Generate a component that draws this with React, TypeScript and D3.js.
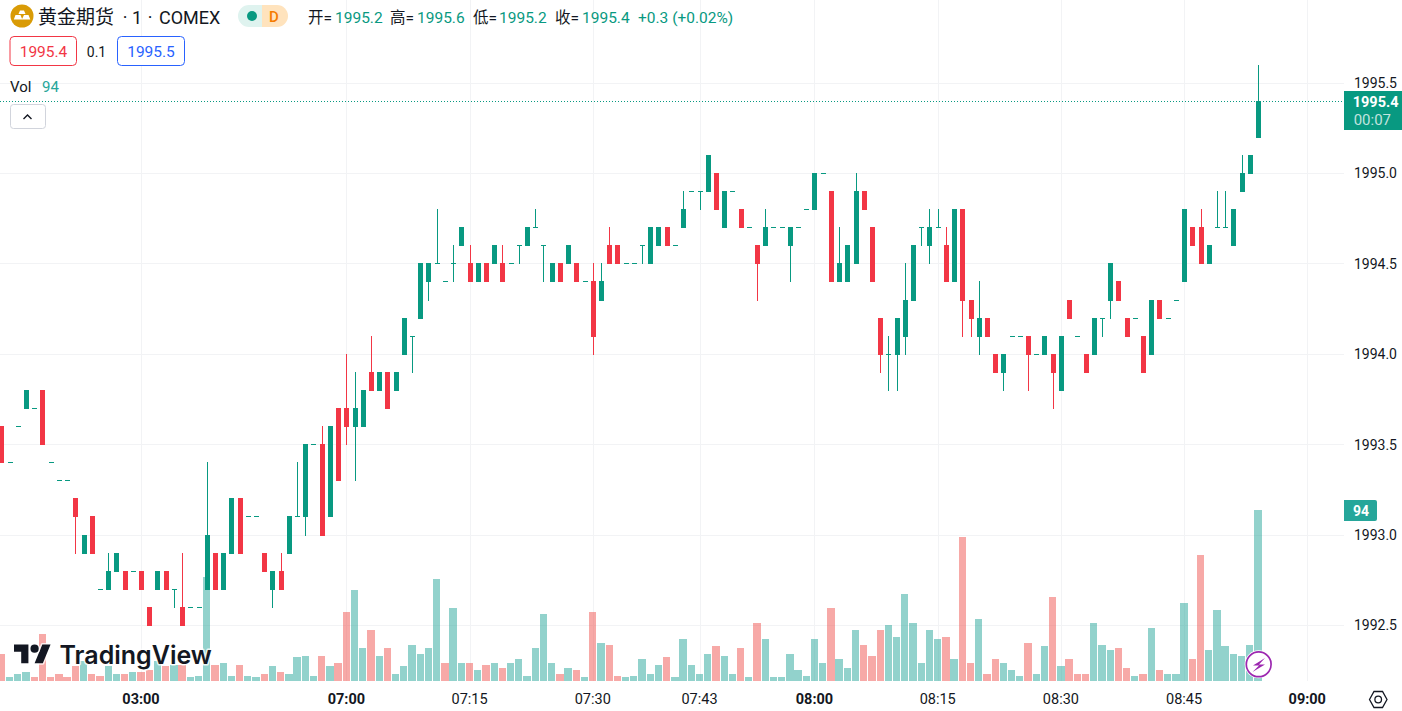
import React from "react";
import * as d3 from "d3";

const opens = [
1993.6,1993.4,1993.6,1993.7,1993.7,1993.8,1993.4,1993.3,1993.3,1993.2,1992.9,1993.1,1992.7,1992.7,1992.8,1992.8,1992.8,1992.8,1992.6,1992.7,
1992.8,1992.7,1992.6,1992.6,1992.6,1992.7,1992.9,1992.7,1992.9,1993.2,1993.1,1993.1,1992.9,1992.7,1992.8,1992.9,1993.1,1993.1,1993.5,1993.5,
1993.1,1993.7,1993.7,1993.6,1993.6,1993.9,1993.8,1993.9,1993.8,1994.0,1994.1,1994.2,1994.4,1994.5,1994.4,1994.5,1994.6,1994.5,1994.4,1994.5,
1994.5,1994.5,1994.5,1994.6,1994.6,1994.7,1994.6,1994.4,1994.5,1994.5,1994.5,1994.4,1994.4,1994.3,1994.6,1994.6,1994.5,1994.5,1994.6,1994.5,
1994.6,1994.7,1994.6,1994.7,1994.9,1994.9,1994.9,1995.0,1994.7,1994.9,1994.8,1994.7,1994.6,1994.6,1994.7,1994.7,1994.6,1994.7,1994.8,1994.8,
1995.0,1994.9,1994.4,1994.4,1994.5,1994.9,1994.7,1994.2,1994.0,1994.0,1994.1,1994.3,1994.7,1994.6,1994.7,1994.6,1994.4,1994.8,1994.3,1994.1,
1994.2,1994.0,1993.9,1994.1,1994.1,1994.1,1994.0,1994.0,1994.0,1993.8,1994.3,1994.1,1994.0,1994.0,1994.2,1994.3,1994.4,1994.2,1994.2,1994.1,
1994.0,1994.3,1994.2,1994.3,1994.4,1994.7,1994.7,1994.5,1994.7,1994.7,1994.6,1994.9,1995.0,1995.2];
const closes = [
1993.4,1993.4,1993.6,1993.8,1993.7,1993.5,1993.4,1993.3,1993.3,1993.1,1993.0,1992.9,1992.7,1992.8,1992.9,1992.7,1992.8,1992.7,1992.5,1992.8,
1992.7,1992.7,1992.5,1992.6,1992.6,1993.0,1992.7,1992.9,1993.2,1992.9,1993.1,1993.1,1992.8,1992.8,1992.7,1993.1,1993.1,1993.5,1993.5,1993.0,
1993.6,1993.3,1993.6,1993.7,1993.8,1993.8,1993.9,1993.7,1993.9,1994.2,1994.1,1994.5,1994.5,1994.5,1994.4,1994.5,1994.7,1994.4,1994.5,1994.4,
1994.6,1994.4,1994.5,1994.6,1994.7,1994.7,1994.6,1994.5,1994.4,1994.6,1994.4,1994.4,1994.1,1994.4,1994.5,1994.5,1994.5,1994.5,1994.6,1994.7,
1994.7,1994.6,1994.6,1994.8,1994.9,1994.9,1995.1,1994.8,1994.9,1994.9,1994.7,1994.7,1994.5,1994.7,1994.7,1994.7,1994.7,1994.7,1994.8,1995.0,
1995.0,1994.4,1994.5,1994.6,1994.9,1994.8,1994.4,1994.0,1994.0,1994.2,1994.3,1994.6,1994.7,1994.7,1994.7,1994.4,1994.8,1994.3,1994.2,1994.2,
1994.1,1993.9,1994.0,1994.1,1994.1,1994.0,1994.0,1994.1,1993.9,1994.1,1994.2,1994.1,1993.9,1994.2,1994.2,1994.5,1994.3,1994.1,1994.2,1993.9,
1994.3,1994.2,1994.2,1994.3,1994.8,1994.6,1994.5,1994.6,1994.7,1994.7,1994.8,1995.0,1995.1,1995.4];
const highs = [
1993.6,1993.4,1993.6,1993.8,1993.7,1993.8,1993.4,1993.3,1993.3,1993.2,1993.0,1993.1,1992.7,1992.9,1992.9,1992.8,1992.8,1992.8,1992.6,1992.8,
1992.8,1992.7,1992.9,1992.6,1992.6,1993.4,1992.9,1992.9,1993.2,1993.2,1993.1,1993.1,1992.9,1992.8,1992.9,1993.1,1993.4,1993.5,1993.5,1993.6,
1993.6,1993.7,1994.0,1993.9,1993.8,1994.1,1993.9,1993.9,1993.9,1994.2,1994.1,1994.5,1994.5,1994.8,1994.4,1994.6,1994.7,1994.6,1994.5,1994.5,
1994.6,1994.6,1994.5,1994.6,1994.7,1994.8,1994.6,1994.5,1994.5,1994.6,1994.5,1994.4,1994.5,1994.5,1994.7,1994.6,1994.5,1994.5,1994.6,1994.7,
1994.7,1994.7,1994.6,1994.9,1994.9,1994.9,1995.1,1995.0,1994.9,1994.9,1994.8,1994.7,1994.6,1994.8,1994.7,1994.7,1994.7,1994.7,1994.8,1995.0,
1995.0,1994.9,1994.7,1994.6,1995.0,1994.9,1994.7,1994.2,1994.1,1994.2,1994.5,1994.6,1994.7,1994.8,1994.8,1994.7,1994.8,1994.8,1994.3,1994.4,
1994.2,1994.0,1994.0,1994.1,1994.1,1994.1,1994.0,1994.1,1994.0,1994.1,1994.3,1994.1,1994.0,1994.2,1994.2,1994.5,1994.4,1994.2,1994.2,1994.1,
1994.3,1994.3,1994.2,1994.3,1994.8,1994.7,1994.8,1994.6,1994.9,1994.9,1994.8,1995.1,1995.1,1995.6];
const lows = [
1993.4,1993.4,1993.6,1993.7,1993.7,1993.5,1993.4,1993.3,1993.3,1992.9,1992.9,1992.9,1992.7,1992.7,1992.8,1992.7,1992.8,1992.7,1992.5,1992.7,
1992.7,1992.6,1992.5,1992.6,1992.6,1992.7,1992.7,1992.7,1992.9,1992.9,1993.1,1993.1,1992.8,1992.6,1992.7,1992.9,1993.1,1993.0,1993.5,1993.0,
1993.1,1993.3,1993.5,1993.3,1993.6,1993.8,1993.8,1993.7,1993.8,1994.0,1993.9,1994.2,1994.3,1994.5,1994.4,1994.4,1994.6,1994.4,1994.4,1994.4,
1994.5,1994.4,1994.5,1994.5,1994.6,1994.7,1994.4,1994.4,1994.4,1994.5,1994.4,1994.4,1994.0,1994.3,1994.5,1994.5,1994.5,1994.5,1994.5,1994.5,
1994.6,1994.6,1994.6,1994.7,1994.9,1994.8,1994.9,1994.8,1994.7,1994.9,1994.7,1994.7,1994.3,1994.6,1994.7,1994.7,1994.4,1994.7,1994.8,1994.8,
1995.0,1994.4,1994.4,1994.4,1994.5,1994.8,1994.4,1993.9,1993.8,1993.8,1994.0,1994.3,1994.6,1994.5,1994.7,1994.4,1994.4,1994.1,1994.1,1994.0,
1994.1,1993.9,1993.8,1994.1,1994.1,1993.8,1994.0,1994.0,1993.7,1993.8,1994.2,1994.1,1993.9,1994.0,1994.1,1994.2,1994.3,1994.1,1994.2,1993.9,
1994.0,1994.2,1994.2,1994.3,1994.4,1994.6,1994.5,1994.5,1994.7,1994.7,1994.6,1994.9,1995.0,1995.2];
const volumes = [
15,2,4,5,2,26,2,4,2,8,11,4,3,8,4,4,5,5,6,11,
8,9,9,2,3,57,9,10,3,9,3,2,4,8,5,4,13,14,3,14,
8,10,38,50,18,28,14,18,4,8,20,15,18,56,10,40,10,10,6,9,
10,7,10,12,3,18,37,10,4,7,6,2,38,21,20,3,2,3,12,4,
9,13,2,23,9,4,15,19,14,4,18,2,32,23,2,2,15,6,3,23,
10,40,12,7,28,20,14,28,31,24,48,32,10,28,23,24,12,79,10,34,
4,12,10,6,3,21,4,19,46,8,12,4,4,32,20,17,18,7,3,4,
29,6,4,4,43,12,69,17,39,19,15,14,20,94];
const volumeSides = [
  "rgggrrrrrr", "grrggrgrrg", "rgrgggrggr", "ggrgrggggr", "grrggrgrgg", "ggggrggrgr",
  "grggggggrg", "rgrgrrgggg", "grgggggrgg", "rgrggggggg", "grgggrrrgg", "gggggrgrrg",
  "rrgggrggrg", "rrrgggrrgr", "grgggrrggg", "gggg",
].join("");
const timeLabels = [
  { index: 17, label: "03:00", bold: true },
  { index: 42, label: "07:00", bold: true },
  { index: 57, label: "07:15", bold: false },
  { index: 72, label: "07:30", bold: false },
  { index: 85, label: "07:43", bold: false },
  { index: 99, label: "08:00", bold: true },
  { index: 114, label: "08:15", bold: false },
  { index: 129, label: "08:30", bold: false },
  { index: 144, label: "08:45", bold: false },
  { index: 159, label: "09:00", bold: true },
];
const priceTicks = [1995.5, 1995.0, 1994.5, 1994.0, 1993.5, 1993.0, 1992.5];

const UP = "#089981", DOWN = "#F23645", VUP = "rgba(38,166,154,0.5)", VDOWN = "rgba(239,83,80,0.5)";
const GRID = "#F2F3F5";
const INK = "#131722";
const FONT = "Roboto, 'Noto Sans CJK SC', sans-serif";
const PANE_R = 1344, PANE_B = 681;

const xScale = d3.scaleLinear().domain([0, 153]).range([1.4, 1258]);
const yScale = d3.scaleLinear().domain([1992.5, 1995.5]).range([625.4, 83.1]);
const vScale = d3.scaleLinear().domain([0, 94]).range([PANE_B, 510]);

export default function App() {
  const R = Math.round, F = Math.floor;
  const cols = volumes.map((v, i) => {
    const x = xScale(i);
    const l = R(x - 3.65), r = R(x + 3.65), t = R(vScale(v));
    return <rect key={i} x={l} y={t} width={r - l} height={PANE_B - t} fill={volumeSides[i] === "r" ? VDOWN : VUP} />;
  });
  const candles = opens.map((o, i) => {
    const c = closes[i], col = c < o ? DOWN : UP, x = R(xScale(i));
    const top = F(yScale(Math.max(o, c))), bot = F(yScale(Math.min(o, c))) + 1;
    const ht = F(yScale(highs[i])), hb = F(yScale(lows[i])) + 1;
    return (
      <g key={i} fill={col}>
        <rect x={x} y={ht} width={1} height={hb - ht} />
        <rect x={x - 2} y={top} width={5} height={bot - top} />
      </g>
    );
  });
  const lastY = F(yScale(closes[closes.length - 1]));
  return (
    <svg width={1402} height={711} style={{ position: "absolute", left: 0, top: 0, display: "block", background: "#fff" }} fontFamily={FONT}>
      {priceTicks.map((p) => <rect key={p} x={0} y={F(yScale(p))} width={PANE_R} height={1} fill={GRID} />)}
      {timeLabels.map((t) => <rect key={t.index} x={R(xScale(t.index))} y={0} width={1} height={PANE_B} fill={GRID} />)}
      {cols}
      {candles}
      {/* watermark */}
      <g stroke="#fff" strokeWidth={3} strokeOpacity={0.8} strokeLinejoin="round" paintOrder="stroke" fill={INK}>
        <g transform="translate(14,640.5) scale(1.03)">
          <path d="M14 22H7V11H0V4h14v18ZM28 22h-8l7.5-18h8L28 22Z" />
          <circle cx={20} cy={8} r={4} />
        </g>
        <text x={59.5} y={664} fontFamily="Inter, Roboto, sans-serif" fontSize={25} fontWeight={600}>TradingView</text>
      </g>
      {/* last price line */}
      <line x1={0} x2={PANE_R} y1={lastY + 0.5} y2={lastY + 0.5} stroke={UP} strokeWidth={1} strokeDasharray="1 2" />
      {/* price axis */}
      {priceTicks.map((p) => (
        <text key={p} x={1397} y={yScale(p) + 5} textAnchor="end" fontSize={14} fill={INK}>{p.toFixed(1)}</text>
      ))}
      <rect x={1344} y={91} width={58} height={39} fill={UP} />
      <text x={1398.5} y={107} textAnchor="end" fontSize={14.5} fontWeight={700} fill="#fff">1995.4</text>
      <text x={1391} y={125} textAnchor="end" fontSize={15} fill="#fff" fillOpacity={0.75}>00:07</text>
      <path d="M1344 500h31a2 2 0 0 1 2 2v17a2 2 0 0 1 -2 2h-31z" fill="#26A69A" />
      <text x={1361} y={515.5} textAnchor="middle" fontSize={14} fontWeight={700} fill="#fff">94</text>
      {/* time axis */}
      {timeLabels.map((t) => (
        <text key={t.index} x={xScale(t.index)} y={704} textAnchor="middle" fontSize={14.5} fontWeight={t.bold ? 700 : 400} fill={INK}>{t.label}</text>
      ))}
      <path d="M1369.5 699.5l4.5-8h8.5l4.5 8 -4.5 8h-8.5z" fill="none" stroke={INK} strokeWidth={1.3} />
      <circle cx={1378.2} cy={699.5} r={3.3} fill="none" stroke={INK} strokeWidth={1.3} />
      {/* lightning badge */}
      <circle cx={1258.7} cy={664.3} r={14} fill="#fff" />
      <circle cx={1258.7} cy={664.3} r={12.4} fill="#fff" stroke="#9C27B0" strokeWidth={1.7} />
      <path d="M1265 658l-12 7.5h6l-6.5 6.5 12.5-7.5h-6z" fill="#9C27B0" />
      {/* legend */}
      <circle cx={22} cy={16} r={11.5} fill="#D99B06" />
      <path d="M20 10.5h4l1.5 3.5h-7zM15.5 15h5l1.8 4.5h-8.5zM24 15h4.5l1.8 4.5h-8.5z" fill="#fff" />
      <text x={38} y={24} fontSize={19} fill={INK}>黄金期货</text>
      <text x={125} y={24} textAnchor="middle" fontSize={18} fill={INK}>·</text>
      <text x={137} y={24} textAnchor="middle" fontSize={18} fill={INK}>1</text>
      <text x={150} y={24} textAnchor="middle" fontSize={18} fill={INK}>·</text>
      <text x={159} y={24} fontSize={18} fill={INK}>COMEX</text>
      <path d="M249 5h13v22h-13a11 11 0 0 1 0-22z" fill="#DFF3EF" />
      <path d="M262 5h15a11 11 0 0 1 0 22h-15z" fill="#FFE3BD" />
      <circle cx={252} cy={16} r={5} fill={UP} />
      <text x={274} y={21.5} textAnchor="middle" fontSize={15} fontWeight={500} fill="#F57C00">D</text>
      <g fontSize={15.5} fill={UP}>
        <text x={308} y={23} fill={INK}>开=</text><text x={335} y={23}>1995.2</text>
        <text x={390} y={23} fill={INK}>高=</text><text x={417} y={23}>1995.6</text>
        <text x={473} y={23} fill={INK}>低=</text><text x={499} y={23}>1995.2</text>
        <text x={555} y={23} fill={INK}>收=</text><text x={582} y={23}>1995.4</text>
        <text x={638} y={23}>+0.3 (+0.02%)</text>
      </g>
      <rect x={10} y={36.5} width={66.5} height={29} rx={4} fill="#fff" stroke={DOWN} />
      <text x={43.5} y={56.5} textAnchor="middle" fontSize={15.5} fill={DOWN}>1995.4</text>
      <text x={96.5} y={56.5} textAnchor="middle" fontSize={14} fill={INK}>0.1</text>
      <rect x={117.5} y={36.5} width={67} height={29} rx={4} fill="#fff" stroke="#2962FF" />
      <text x={151} y={56.5} textAnchor="middle" fontSize={15.5} fill="#2962FF">1995.5</text>
      <text x={10} y={92} fontSize={15} fill={INK}>Vol</text>
      <text x={42} y={92} fontSize={15} fill="#26A69A">94</text>
      <rect x={10.5} y={104.5} width={35} height={24} rx={3} fill="#fff" stroke="#D1D4DC" />
      <path d="M23.5 119l4-4 4 4" fill="none" stroke={INK} strokeWidth={1.4} />
    </svg>
  );
}
